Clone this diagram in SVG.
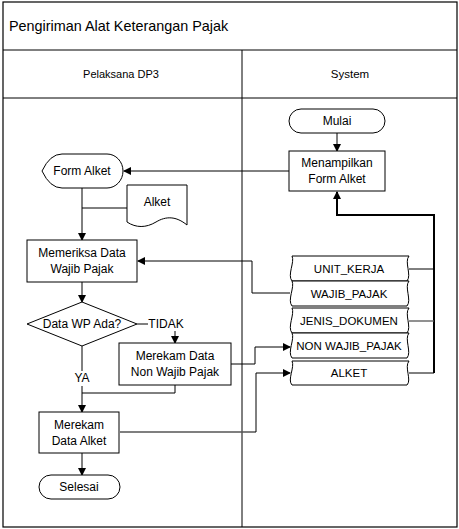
<svg xmlns="http://www.w3.org/2000/svg" width="459" height="529" viewBox="0 0 459 529">
<style>
.f{fill:#fff;stroke:#000;stroke-width:1}
.t{font-family:"Liberation Sans",Arial,sans-serif;font-size:12px;fill:#000;text-anchor:middle;dominant-baseline:central}
.s{font-size:11.5px}
.c{fill:none;stroke:#000;stroke-width:1}
.g{fill:none;stroke:#555;stroke-width:1.3}
.k{fill:none;stroke:#000;stroke-width:2}
</style>
<defs>
<marker id="a" markerWidth="8" markerHeight="8" refX="7" refY="4" orient="auto" markerUnits="userSpaceOnUse">
<path d="M0,0 L8,4 L0,8 Z" fill="#000"/>
</marker>
</defs>
<rect width="459" height="529" fill="#fff"/>
<g id="frame">
<rect x="3" y="2" width="454" height="525" fill="none" stroke="#000" stroke-width="1.2"/>
<line x1="3" y1="50" x2="457" y2="50" stroke="#000"/>
<line x1="3" y1="98" x2="457" y2="98" stroke="#000"/>
<line x1="242" y1="50" x2="242" y2="527" stroke="#000"/>
<text x="9" y="26" font-family="Liberation Sans,Arial,sans-serif" font-size="14.4" dominant-baseline="central">Pengiriman Alat Keterangan Pajak</text>
<text class="t s" x="121" y="74" style="font-size:11px">Pelaksana DP3</text>
<text class="t s" x="350" y="74">System</text>
</g>
<g id="connectors">
<line class="c" x1="337" y1="133" x2="337" y2="151" marker-end="url(#a)"/>
<line class="c" x1="289" y1="171" x2="124" y2="171" marker-end="url(#a)"/>
<line class="c" x1="82" y1="188" x2="82" y2="240" marker-end="url(#a)"/>
<line class="c" x1="127" y1="208" x2="82" y2="208"/>
<polyline class="k" points="434,373 434,215 337,215 337,192" marker-end="url(#a)"/>
<line class="c" x1="409" y1="269" x2="434" y2="269"/>
<line class="g" x1="409" y1="321" x2="434" y2="321"/>
<line class="c" x1="409" y1="373" x2="434" y2="373"/>
<polyline class="c" points="290,293 252,293 252,261 138,261" marker-end="url(#a)"/>
<line class="c" x1="82" y1="282" x2="82" y2="302" marker-end="url(#a)"/>
<line class="c" x1="137" y1="324" x2="148" y2="324"/>
<line class="c" x1="175" y1="331" x2="175" y2="343" marker-end="url(#a)"/>
<line class="c" x1="82" y1="346" x2="82" y2="371"/>
<line class="c" x1="82" y1="386" x2="82" y2="412" marker-end="url(#a)"/>
<polyline class="c" points="175,385 175,393 82,393"/>
<polyline class="c" points="231,364 255,364 255,347 290,347" marker-end="url(#a)"/>
<polyline class="g" points="120,432 256,432"/>
<polyline class="c" points="256,432 256,373 290,373" marker-end="url(#a)"/>
<line class="c" x1="82" y1="453" x2="82" y2="475" marker-end="url(#a)"/>
<text class="t" x="166" y="324">TIDAK</text>
<text class="t" x="82" y="378">YA</text>
</g>
<g id="mulai">
<rect class="f" x="289" y="109" width="96" height="24" rx="12"/>
<text class="t" x="337" y="121">Mulai</text>
</g>
<g id="menampilkan">
<rect class="f" x="289" y="151" width="96" height="40"/>
<text class="t" x="337" y="163">Menampilkan</text>
<text class="t" x="337" y="179">Form Alket</text>
</g>
<g id="form-alket">
<path class="f" d="M42,171 Q50,154 62,154 L107,154 A16,17 0 0 1 107,188 L62,188 Q50,188 42,171 Z"/>
<text class="t" x="82" y="171">Form Alket</text>
</g>
<g id="doc-alket">
<path class="f" d="M127,185 L187,185 L187,225 C176,216 166,216 156,222 C146,228 136,228 127,222 Z"/>
<text class="t" x="157" y="202">Alket</text>
</g>
<g id="memeriksa">
<rect class="f" x="27" y="240" width="110" height="42"/>
<text class="t" x="82" y="253">Memeriksa Data</text>
<text class="t" x="82" y="269">Wajib Pajak</text>
</g>
<g id="decision">
<path class="f" d="M82,302 L137,324 L82,346 L27,324 Z"/>
<text class="t" x="82" y="324">Data WP Ada?</text>
</g>
<g id="merekam-non">
<rect class="f" x="119" y="343" width="112" height="42"/>
<text class="t" x="175" y="356">Merekam Data</text>
<text class="t" x="175" y="372">Non Wajib Pajak</text>
</g>
<g id="merekam-alket">
<rect class="f" x="39" y="412" width="80" height="41"/>
<text class="t" x="79" y="425">Merekam</text>
<text class="t" x="79" y="441">Data Alket</text>
</g>
<g id="selesai">
<rect class="f" x="39" y="475" width="81" height="24" rx="12"/>
<text class="t" x="79" y="487">Selesai</text>
</g>
<g id="unit-kerja">
<path class="f" d="M292,256 L409,256 C404,262 412,275 407,281 L292,281 C287,275 295,262 292,256 Z"/>
<text class="t s" x="349" y="269">UNIT_KERJA</text>
</g>
<g id="wajib-pajak">
<path class="f" d="M292,281 L409,281 C404,287 412,300 407,306 L292,306 C287,300 295,287 292,281 Z"/>
<text class="t s" x="349" y="294">WAJIB_PAJAK</text>
</g>
<g id="jenis-dokumen">
<path class="f" d="M292,308 L409,308 C404,314 412,327 407,333 L292,333 C287,327 295,314 292,308 Z"/>
<text class="t s" x="349" y="321">JENIS_DOKUMEN</text>
</g>
<g id="non-wajib-pajak">
<path class="f" d="M292,333 L409,333 C404,339 412,352 407,358 L292,358 C287,352 295,339 292,333 Z"/>
<text class="t s" x="349" y="346">NON WAJIB_PAJAK</text>
</g>
<g id="alket-store">
<path class="f" d="M292,361 L409,361 C404,367 412,380 407,385 L292,385 C287,380 295,367 292,361 Z"/>
<text class="t s" x="349" y="373">ALKET</text>
</g>
</svg>
